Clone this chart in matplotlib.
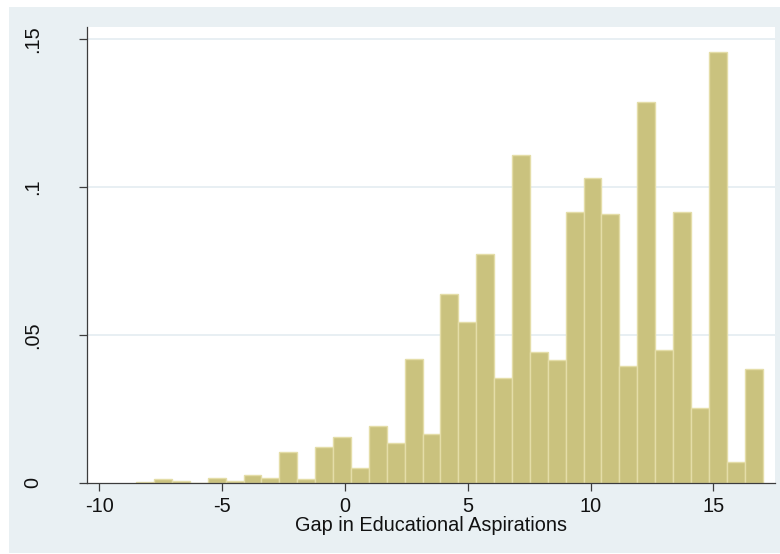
import numpy as np
import matplotlib
matplotlib.use("Agg")
import matplotlib.pyplot as plt
from matplotlib.patches import Rectangle

# ---- data (density per bin) ----
bin_start = -8.5
bin_end = 17.0
n_bins = 35
density = [0.0005, 0.0012, 0.0006, 0.0000, 0.0016, 0.0006, 0.0028, 0.0017,
           0.0106, 0.0015, 0.0123, 0.0155, 0.0050, 0.0194, 0.0136, 0.0419,
           0.0166, 0.0637, 0.0545, 0.0775, 0.0356, 0.1108, 0.0444, 0.0414,
           0.0915, 0.1029, 0.0908, 0.0396, 0.1286, 0.0448, 0.0915, 0.0252,
           0.1457, 0.0070, 0.0385]
x_ticks = [-10, -5, 0, 5, 10, 15]
x_ticklabels = ["-10", "-5", "0", "5", "10", "15"]
y_ticks = [0, 0.05, 0.10, 0.15]
y_ticklabels = ["0", ".05", ".1", ".15"]
x_label = "Gap in Educational Aspirations"

plt.rcParams['font.family'] = ['Liberation Sans', 'DejaVu Sans']

W, H = 780, 554
fig = plt.figure(figsize=(W / 100, H / 100), dpi=100)
fig.patch.set_facecolor("white")
# outer graph region (Stata s2color style)
bg = Rectangle((9 / W, 1 - 553 / H), 1 - 9 / W, (553 - 7) / H,
               transform=fig.transFigure, facecolor="#e9f0f3",
               edgecolor="none", zorder=-10)
fig.add_artist(bg)

ax = fig.add_axes([87 / W, 1 - 483 / H, (775 - 87) / W, (483 - 27) / H])
ax.set_zorder(1)
ax.set_facecolor("white")

edges = np.linspace(bin_start, bin_end, n_bins + 1)
widths = np.diff(edges)
ax.bar(edges[:-1], density, width=widths, align="edge",
       color="#cac27e", edgecolor="#e4dda8", linewidth=1.0, zorder=3)

ax.set_xlim(-10.505, 17.508)
ax.set_ylim(0, 0.15405)

ax.set_xticks(x_ticks)
ax.set_xticklabels(x_ticklabels)
ax.set_yticks(y_ticks)
ax.set_yticklabels(y_ticklabels, rotation=90, va="center")

for y in y_ticks[1:]:
    ax.axhline(y, color="#e6eef2", linewidth=1.3, zorder=1)

for side in ["top", "right"]:
    ax.spines[side].set_visible(False)
for side in ["left", "bottom"]:
    ax.spines[side].set_color("#3c3c3c")
    ax.spines[side].set_linewidth(0.9)
    ax.spines[side].set_zorder(4)

fs = 14.3
ax.tick_params(axis="x", length=6, width=0.9, color="#3c3c3c",
               labelsize=fs, pad=4, labelcolor="#111111")
ax.tick_params(axis="y", length=6, width=0.9, color="#3c3c3c",
               labelsize=fs, pad=26, labelcolor="#111111")

ax.set_xlabel(x_label, fontsize=fs, color="#111111", labelpad=0)

fig.savefig("out.png", dpi=100, facecolor=fig.get_facecolor())
